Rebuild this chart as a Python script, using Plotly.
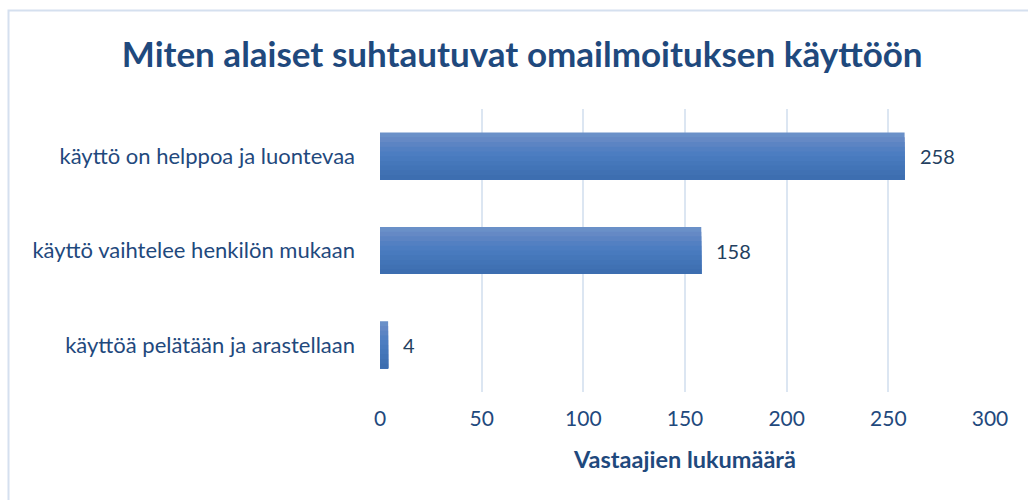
import plotly.graph_objects as go

categories = ["käyttö on helppoa ja luontevaa",
              "käyttö vaihtelee henkilön mukaan",
              "käyttöä pelätään ja arastellaan"]
values = [258, 158, 4]
x_ticks = [0, 50, 100, 150, 200, 250, 300]

title_text = "Miten alaiset suhtautuvat omailmoituksen käyttöön"
x_title = "Vastaajien lukumäärä"

TXT = "#1F497D"
FONT = "Lato, 'Open Sans', sans-serif"

# vertical gradient of the bars (top -> bottom), drawn as overlaid bands
grad = ["#6A90C8", "#6589C5", "#5C84C3", "#5380C2", "#4C7DC1", "#487ABE",
        "#4577BA", "#4274B7", "#4071B3", "#3D6EB0"]
bar_w = 0.5
n = len(grad)
band = bar_w / n

fig = go.Figure()
for i, c in enumerate(grad):
    fig.add_trace(go.Bar(
        y=categories, x=values, orientation="h",
        width=bar_w - i * band, offset=-bar_w / 2 + i * band,
        marker=dict(color=c, line=dict(width=0)),
        showlegend=False, hoverinfo="skip" if i else "x+y",
    ))

L, R, T, B = 380, 38, 109, 108
W, H = 1028, 500
pw, ph = W - L - R, H - T - B

def px_to_paper_x(px):
    return (px - L) / pw

def px_to_paper_y(py):
    return (H - B - py) / ph

annotations = [dict(x=v, y=c, xref="x", yref="y", text=str(v),
                    showarrow=False, xanchor="left", yanchor="middle",
                    xshift=13, font=dict(family=FONT, size=20, color="#243F60"))
               for c, v in zip(categories, values)]

fig.update_layout(
    width=W, height=H,
    barmode="overlay",
    plot_bgcolor="white", paper_bgcolor="white",
    margin=dict(l=L, r=R, t=T, b=B, autoexpand=False),
    title=dict(text="<b>" + title_text + "</b>", x=0.508, xanchor="center",
               y=1 - 55 / H, yanchor="middle",
               font=dict(family=FONT, size=35, color=TXT)),
    font=dict(family=FONT, color=TXT),
    xaxis=dict(range=[0, 300], tickvals=x_ticks, showgrid=True,
               gridcolor="#DCE6F2", gridwidth=2, zeroline=False,
               showline=False, ticks="", ticklabelstandoff=12,
               automargin=False,
               tickfont=dict(family=FONT, size=21, color=TXT),
               title=dict(text="<b>" + x_title + "</b>", standoff=22,
                          font=dict(family=FONT, size=23.5, color=TXT))),
    yaxis=dict(autorange="reversed", showgrid=False, zeroline=False,
               showline=False, ticks="", ticklabelstandoff=24,
               automargin=False,
               tickfont=dict(family=FONT, size=22, color=TXT)),
    annotations=annotations,
    shapes=[dict(type="rect", xref="paper", yref="paper",
                 x0=px_to_paper_x(8.5), x1=px_to_paper_x(1060),
                 y0=px_to_paper_y(530), y1=px_to_paper_y(10.5),
                 line=dict(color="#D5E0EF", width=2), layer="below")],
)

fig.write_html("out.html",
               config={"displayModeBar": False},
               post_script="document.body.style.margin='0';"
                           "document.body.style.overflow='hidden';")
